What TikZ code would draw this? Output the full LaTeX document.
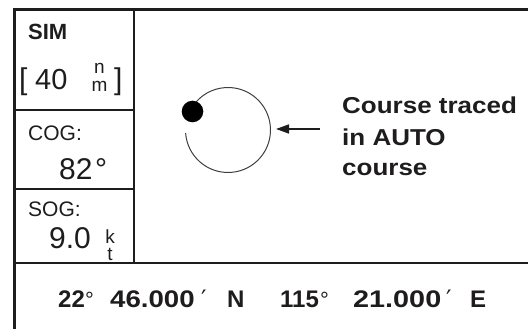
\documentclass[tikz,border=0pt]{standalone}
\usepackage{fontspec}
\setmainfont{Liberation Sans}
\newfontfamily\dvfont{DejaVu Sans}
\usetikzlibrary{arrows.meta}
\newcommand\myfs[1]{\fontsize{#1}{#1}\selectfont}
\definecolor{ink}{RGB}{30,28,29}
\begin{document}
\begin{tikzpicture}[x=1pt,y=1pt,
  txt/.style={inner sep=0pt, anchor=base west, text=ink},
  thick frame/.style={line width=3pt, draw=ink},
  thin frame/.style={line width=1.4pt, draw=ink},
  big label/.style={txt, font=\bfseries\myfs{23}},
  coord text/.style={txt, font=\bfseries\myfs{24}},
  degree/.style={txt, font=\myfs{22}},
  prime/.style={txt, font=\dvfont\myfs{24}},
  unitstack/.style={inner sep=0pt, anchor=south, text=ink, align=center}]
\useasboundingbox (0,0) rectangle (528,329);
% frame
\draw[thick frame] (528,319) -- (14.5,319) -- (14.5,0);
\draw[thin frame] (134,319) -- (134,66);
\draw[thin frame] (14.5,219) -- (134,219);
\draw[thin frame] (14.5,140) -- (134,140);
\draw[thin frame] (14.5,66) -- (528,66);
% left panel
\node[txt, font=\bfseries\myfs{22}] (sim) at (28,289) {SIM};
\node[txt, font=\myfs{30}] (lb) at (19,239) {[};
\node[txt, font=\myfs{29}] (range) at (35,239) {40};
\node[unitstack, font=\fontsize{19}{18}\selectfont] (nm) at (99.5,237) {n\\m};
\node[txt, font=\myfs{30}] (rb) at (114,239) {]};
\node[txt, font=\myfs{21}] (cog) at (28,188) {COG:};
\node[txt, font=\myfs{30}] (cogv) at (59,149) {82};
\node[txt, font=\myfs{30}] (cogd) at (95,149) {°};
\node[txt, font=\myfs{21}] (sog) at (28,112) {SOG:};
\node[txt, font=\myfs{30}] (sogv) at (49,80) {9.0};
\node[unitstack, font=\fontsize{19}{17}\selectfont] (kt) at (110,68) {k\\t};
% course trace
\draw[line width=1pt, draw=ink!85] (228,199) ++(184:42.5) arc[start angle=184, end angle=505, radius=42.5];
\node[circle, fill=black, minimum size=21.6pt, inner sep=0pt] (dot) at (192.5,217.5) {};
\coordinate (as) at (320,200);
\coordinate (ae) at (276,200);
\draw[line width=1.5pt, draw=ink, -{Triangle[length=13pt,width=9pt]}] (as) -- (ae);
\node[big label] (l1) at (342,215) {\scalebox{1.13}[1]{Course traced}};
\node[big label] (l2) at (342,183) {\scalebox{1.13}[1]{in AUTO}};
\node[big label] (l3) at (342,153) {\scalebox{1.13}[1]{course}};
% position line
\node[coord text] (p1) at (58,21) {22};
\node[degree] (p2) at (85,21) {°};
\node[coord text] (p3) at (110,21) {\scalebox{1.15}[1]{46.000}};
\node[prime] (p4) at (201,21) {′};
\node[coord text] (p5) at (227,21) {N};
\node[coord text] (p6) at (280,21) {115};
\node[degree] (p7) at (320,21) {°};
\node[coord text] (p8) at (353,21) {\scalebox{1.2}[1]{21.000}};
\node[prime] (p9) at (446,21) {′};
\node[coord text] (p10) at (470,21) {E};
\end{tikzpicture}
\end{document}
